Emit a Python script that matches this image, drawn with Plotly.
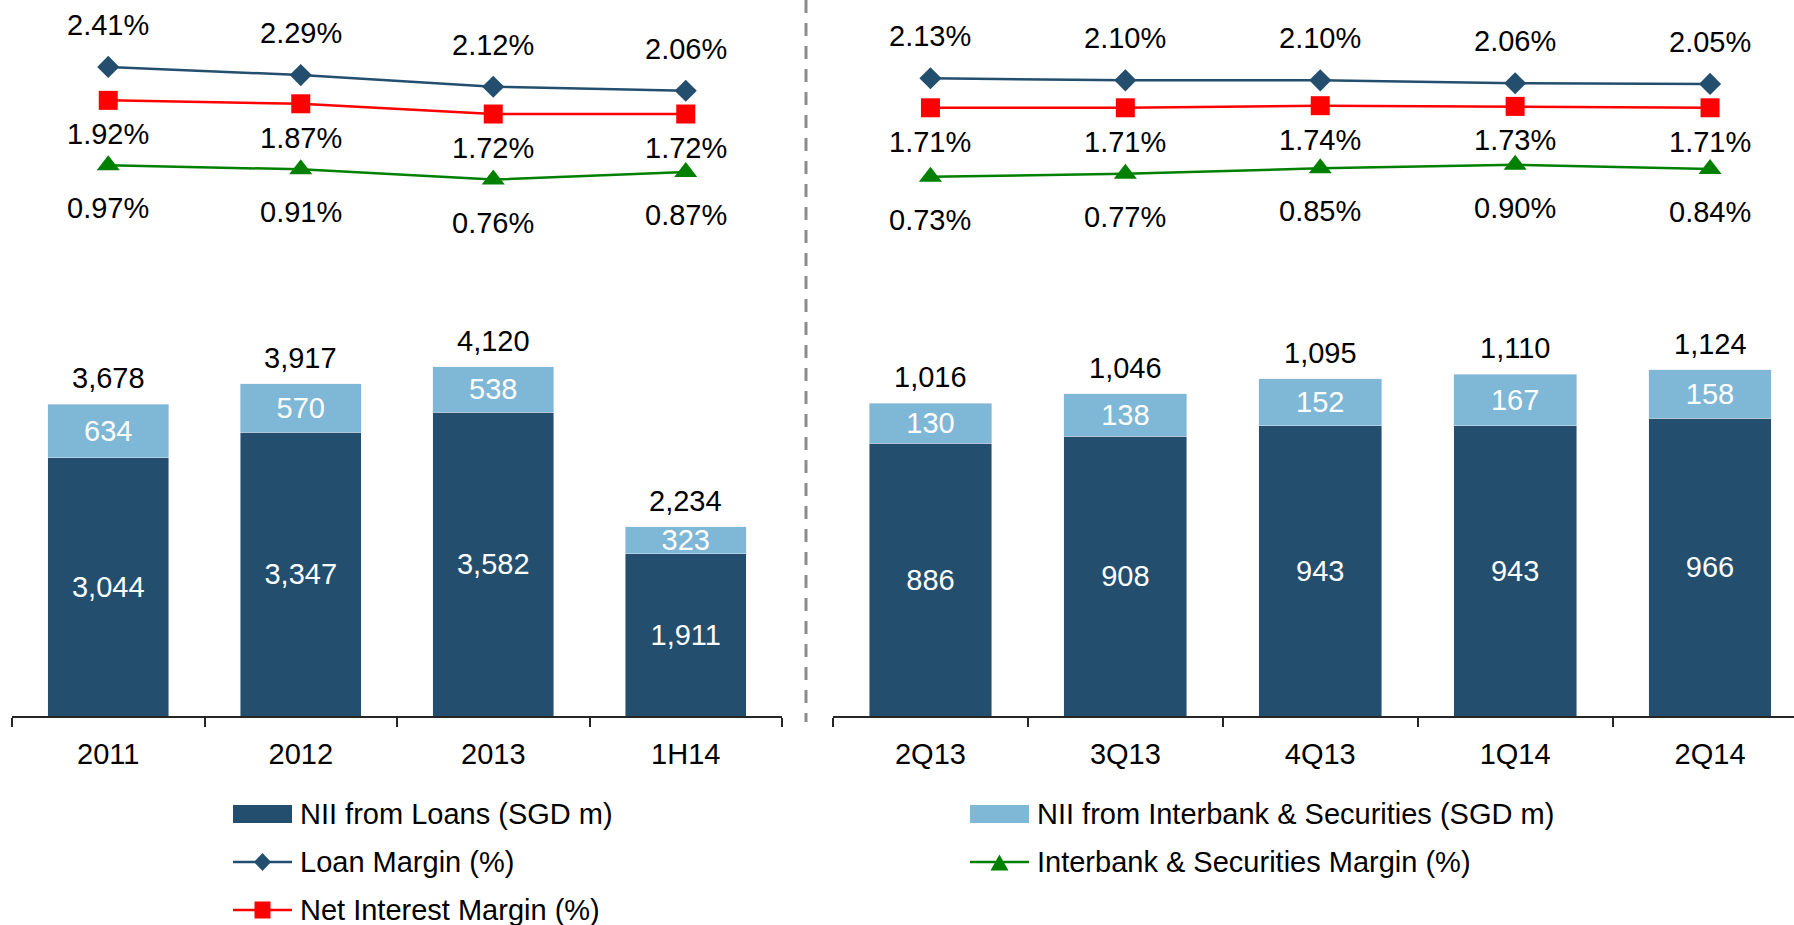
import plotly.graph_objects as go

# ---- data -------------------------------------------------------------
annual_periods = ["2011", "2012", "2013", "1H14"]
annual_nii_loans = [3044, 3347, 3582, 1911]
annual_nii_interbank = [634, 570, 538, 323]
annual_loan_margin = [2.41, 2.29, 2.12, 2.06]
annual_nim = [1.92, 1.87, 1.72, 1.72]
annual_interbank_margin = [0.97, 0.91, 0.76, 0.87]

quarter_periods = ["2Q13", "3Q13", "4Q13", "1Q14", "2Q14"]
quarter_nii_loans = [886, 908, 943, 943, 966]
quarter_nii_interbank = [130, 138, 152, 167, 158]
quarter_loan_margin = [2.13, 2.10, 2.10, 2.06, 2.05]
quarter_nim = [1.71, 1.71, 1.74, 1.73, 1.71]
quarter_interbank_margin = [0.73, 0.77, 0.85, 0.90, 0.84]

series_names = [
    "NII from Loans (SGD m)",
    "NII from Interbank & Securities (SGD m)",
    "Loan Margin (%)",
    "Net Interest Margin (%)",
    "Interbank & Securities Margin (%)",
]

# ---- styling ----------------------------------------------------------
W, H = 1794, 925
FONT = "Liberation Sans, Arial, sans-serif"
FS = 29
C_LOANS = "#234E6E"
C_INTERBANK = "#7FB7D6"
C_LOAN_M = "#234E6E"
C_NIM = "#FF0000"
C_IB_M = "#008000"
AXIS_C = "#262626"


def px_x(p):
    return p / W


def px_y(p):
    return 1 - p / H


fig = go.Figure()


def add_panel(cats, loans, interbank, loan_m, nim, ib_m, xa, ya, yl):
    fig.add_trace(go.Bar(
        x=cats, y=loans, name=series_names[0], marker_color=C_LOANS,
        xaxis=xa, yaxis=ya, text=loans, texttemplate="%{y:,}",
        textposition="inside", insidetextanchor="middle",
        textfont=dict(color="white", size=FS, family=FONT),
        showlegend=False, hoverinfo="skip"))
    fig.add_trace(go.Bar(
        x=cats, y=interbank, name=series_names[1], marker_color=C_INTERBANK,
        xaxis=xa, yaxis=ya, text=interbank, texttemplate="%{y:,}",
        textposition="inside", insidetextanchor="middle",
        textfont=dict(color="white", size=FS, family=FONT),
        showlegend=False, hoverinfo="skip"))
    # stacked totals above each bar (positioned by category index)
    for i, (a, b) in enumerate(zip(loans, interbank)):
        fig.add_annotation(x=i, y=a + b, xref=xa, yref=ya, text=f"{a + b:,}",
                           showarrow=False, yshift=26,
                           font=dict(size=FS, color="black", family=FONT))

    line_specs = [
        (loan_m, series_names[2], C_LOAN_M, "diamond", 17, 42),
        (nim, series_names[3], C_NIM, "square", 19, -34),
        (ib_m, series_names[4], C_IB_M, "triangle-up", 20, -43),
    ]
    for vals, name, col, sym, size, shift in line_specs:
        fig.add_trace(go.Scatter(
            x=cats, y=vals, name=name, mode="lines+markers",
            line=dict(color=col, width=2.5),
            marker=dict(symbol=sym, size=size, color=col),
            xaxis=xa, yaxis=yl, showlegend=False, hoverinfo="skip"))
        for i, v in enumerate(vals):
            fig.add_annotation(x=i, y=v, xref=xa, yref=yl, text=f"{v:.2f}%",
                               showarrow=False, yshift=shift,
                               font=dict(size=FS, color="black", family=FONT))


add_panel(annual_periods, annual_nii_loans, annual_nii_interbank,
          annual_loan_margin, annual_nim, annual_interbank_margin,
          "x", "y", "y3")
add_panel(quarter_periods, quarter_nii_loans, quarter_nii_interbank,
          quarter_loan_margin, quarter_nim, quarter_interbank_margin,
          "x2", "y2", "y4")

base_px = 716
bar_domain = [px_y(base_px), 1]

xaxis_common = dict(
    type="category", showline=True, linecolor=AXIS_C, linewidth=2,
    ticks="outside", tickson="boundaries", ticklen=9, tickwidth=1.5,
    tickcolor=AXIS_C, showgrid=False, zeroline=False, fixedrange=True,
    ticklabelstandoff=11,
    tickfont=dict(size=FS, color="black", family=FONT),
)

fig.update_layout(
    width=W, height=H,
    margin=dict(l=0, r=0, t=0, b=0),
    paper_bgcolor="white", plot_bgcolor="white",
    barmode="stack", bargap=0.37,
    uniformtext=dict(minsize=FS, mode="show"),
    font=dict(family=FONT, size=FS, color="black"),
    showlegend=False,
    xaxis=dict(domain=[px_x(12), px_x(782)], range=[-0.5, 3.5],
               anchor="y", **xaxis_common),
    yaxis=dict(domain=bar_domain, range=[0, base_px / 0.0848],
               visible=False, fixedrange=True),
    yaxis3=dict(overlaying="y", anchor="x",
                range=[(231.5 - base_px) / 68.3, 231.5 / 68.3],
                visible=False, fixedrange=True),
    xaxis2=dict(domain=[px_x(833), 1], range=[-0.5, -0.5 + (W - 833) / 194.9],
                anchor="y2", **xaxis_common),
    yaxis2=dict(domain=bar_domain, range=[0, base_px / 0.308],
                visible=False, fixedrange=True),
    yaxis4=dict(overlaying="y2", anchor="x2",
                range=[(228 - base_px) / 70.3, 228 / 70.3],
                visible=False, fixedrange=True),
)

shapes = []
# dashed divider between the annual and quarterly panels
shapes.append(dict(type="line", xref="paper", yref="paper",
                   x0=px_x(806), x1=px_x(806), y0=1, y1=px_y(722),
                   line=dict(color="#8C8C8C", width=3, dash="13px,10px")))


# ---- legend -----------------------------------------------------------
def legend_rect(x0, color, yc):
    shapes.append(dict(type="rect", xref="paper", yref="paper",
                       x0=px_x(x0), x1=px_x(x0 + 59),
                       y0=px_y(yc - 9), y1=px_y(yc + 9),
                       fillcolor=color, line=dict(width=0)))


def legend_line(x0, color, yc, marker):
    shapes.append(dict(type="line", xref="paper", yref="paper",
                       x0=px_x(x0), x1=px_x(x0 + 59), y0=px_y(yc), y1=px_y(yc),
                       line=dict(color=color, width=2.5)))
    cx = x0 + 29.5
    if marker == "diamond":
        pts = [(cx, yc - 9), (cx + 8.5, yc), (cx, yc + 9), (cx - 8.5, yc)]
    elif marker == "square":
        pts = [(cx - 8, yc - 8.5), (cx + 8, yc - 8.5), (cx + 8, yc + 8.5), (cx - 8, yc + 8.5)]
    else:
        pts = [(cx, yc - 7.5), (cx + 9, yc + 8.5), (cx - 9, yc + 8.5)]
    path = "M " + " L ".join(f"{px_x(a):.5f},{px_y(b):.5f}" for a, b in pts) + " Z"
    shapes.append(dict(type="path", xref="paper", yref="paper", path=path,
                       fillcolor=color, line=dict(width=0)))


def legend_text(x0, yc, text):
    fig.add_annotation(xref="paper", yref="paper", x=px_x(x0), y=px_y(yc),
                       xanchor="left", yanchor="middle", text=text,
                       showarrow=False,
                       font=dict(size=FS, color="black", family=FONT))


legend_rect(233, C_LOANS, 814)
legend_text(298, 814, series_names[0])
legend_line(233, C_LOAN_M, 862, "diamond")
legend_text(298, 862, series_names[2])
legend_line(233, C_NIM, 910, "square")
legend_text(298, 910, series_names[3])

legend_rect(970, C_INTERBANK, 814)
legend_text(1035, 814, series_names[1])
legend_line(970, C_IB_M, 862, "triangle")
legend_text(1035, 862, series_names[4])

fig.update_layout(shapes=shapes)

fig.write_html("out.html")
